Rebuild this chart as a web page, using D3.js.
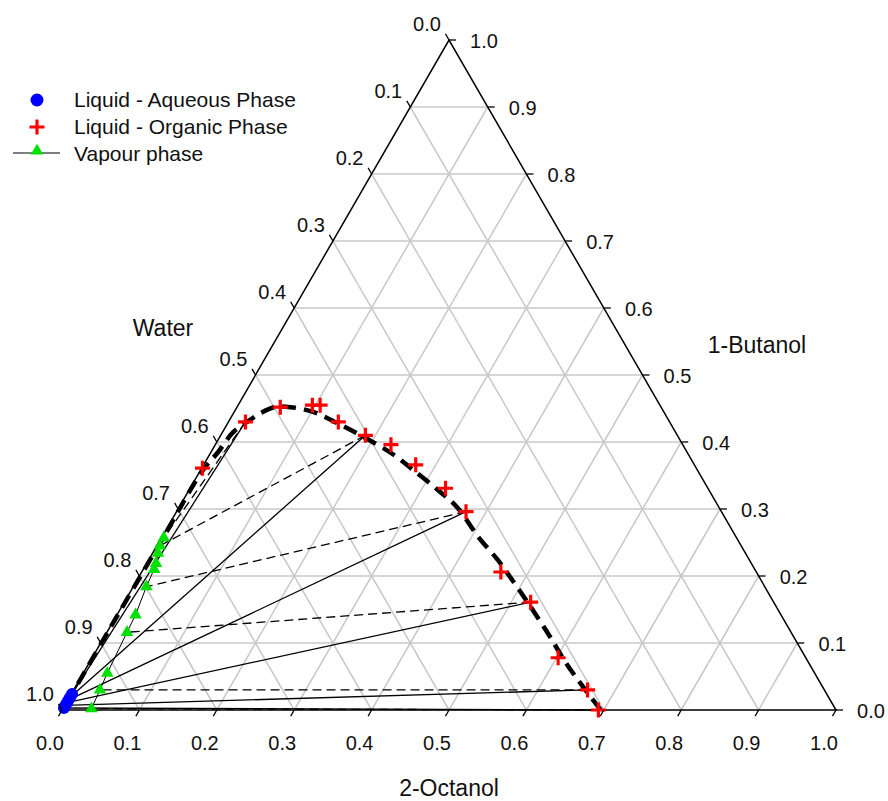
<!DOCTYPE html>
<html>
<head>
<meta charset="utf-8">
<script src="https://cdn.jsdelivr.net/npm/d3@7"></script>
<style>
  body { margin: 0; background: #fff; }
  svg text { font-family: "Liberation Sans", Arial, sans-serif; fill: #111; }
</style>
</head>
<body>
<svg id="chart" width="888" height="801"></svg>
<script>
// Tick values shared by the three ternary axes
var tickValues = [0, 0.1, 0.2, 0.3, 0.4, 0.5, 0.6, 0.7, 0.8, 0.9, 1.0];

// Liquid - organic phase (mole fractions of 2-octanol and 1-butanol)
var orgOctanol = [0.693, 0.664, 0.602, 0.525, 0.464, 0.374, 0.330, 0.274, 0.227, 0.187, 0.142, 0.106, 0.096, 0.056, 0.022, 0.001];
var orgButanol = [0.000, 0.030, 0.078, 0.161, 0.206, 0.296, 0.331, 0.366, 0.396, 0.410, 0.430, 0.455, 0.455, 0.452, 0.430, 0.361];

// Liquid - aqueous phase
var aqOctanol = [0.001, 0.001, 0.001, 0.001, 0.001, 0.001];
var aqButanol = [0.003, 0.007, 0.011, 0.015, 0.019, 0.024];

// Vapour phase
var vapOctanol = [0.003, 0.004, 0.007, 0.012, 0.014, 0.017, 0.024, 0.026, 0.031, 0.034, 0.037];
var vapButanol = [0.257, 0.245, 0.234, 0.219, 0.210, 0.184, 0.142, 0.116, 0.055, 0.030, 0.002];

// Binodal curve (thick dashed)
var binOctanol = [0.696, 0.667, 0.644, 0.611, 0.570, 0.522, 0.488, 0.451, 0.409, 0.360, 0.322, 0.275, 0.238, 0.189, 0.142, 0.102, 0.069, 0.049, 0.035, 0.024, 0.014, 0.009, 0.003, 0.002, 0.001, 0.001];
var binButanol = [0.000, 0.025, 0.045, 0.075, 0.115, 0.160, 0.191, 0.224, 0.258, 0.302, 0.328, 0.358, 0.381, 0.406, 0.428, 0.445, 0.452, 0.452, 0.443, 0.430, 0.415, 0.384, 0.358, 0.250, 0.120, 0.003];

// Tie lines: aqueous -> organic (solid), organic -> vapour (dashed)
var tieAq  = [0, 1, 2, 3, 4, 5];
var tieOrg = [0, 1, 3, 5, 9, 14];
var tieVap = [10, 9, 7, 5, 1, 0];

var legendLabels = ['Liquid - Aqueous Phase', 'Liquid - Organic Phase', 'Vapour phase'];

var svg = d3.select('#chart');
var H = Math.sqrt(3) / 2;
var xScale = d3.scaleLinear().domain([0, 1]).range([62, 836]);
var yScale = d3.scaleLinear().domain([0, H]).range([710, 40]);

// ternary (octanol, butanol) -> pixel
var px = function (oct, but) { return xScale(oct + but / 2); };
var py = function (oct, but) { return yScale(but * H); };
var pt = function (oct, but) { return [px(oct, but), py(oct, but)]; };

var line = d3.line();

// Grid lines, one family per component
var grid = svg.append('g').attr('stroke', '#c8c8c8').attr('stroke-width', 1.5);
tickValues.slice(1, -1).forEach(function (v) {
  grid.append('path').attr('d', line([pt(v, 0), pt(v, 1 - v)]));      // constant octanol
  grid.append('path').attr('d', line([pt(0, v), pt(1 - v, v)]));      // constant butanol
  grid.append('path').attr('d', line([pt(1 - v, 0), pt(0, 1 - v)]));  // constant water
});

// Tie lines
var ties = svg.append('g').attr('fill', 'none').attr('stroke', '#000');
tieAq.forEach(function (a, i) {
  var o = tieOrg[i], v = tieVap[i];
  ties.append('path')
    .attr('d', line([pt(aqOctanol[a], aqButanol[a]), pt(orgOctanol[o], orgButanol[o])]))
    .attr('stroke-width', 1.3);
  ties.append('path')
    .attr('d', line([pt(orgOctanol[o], orgButanol[o]), pt(vapOctanol[v], vapButanol[v])]))
    .attr('stroke-width', 1.3)
    .attr('stroke-dasharray', '9,5');
});

// Vapour line
svg.append('path')
  .attr('d', line(vapOctanol.map(function (d, i) { return pt(d, vapButanol[i]); })))
  .attr('fill', 'none').attr('stroke', '#000').attr('stroke-width', 1);

// Binodal curve
svg.append('path')
  .attr('d', d3.line().curve(d3.curveCatmullRom)(binOctanol.map(function (d, i) { return pt(d, binButanol[i]); })))
  .attr('fill', 'none').attr('stroke', '#000').attr('stroke-width', 4.5)
  .attr('stroke-dasharray', '14,8');

// Triangle outline
svg.append('path')
  .attr('d', line([pt(0, 0), pt(1, 0), pt(0, 1)]) + 'Z')
  .attr('fill', 'none').attr('stroke', '#000').attr('stroke-width', 1.5);

// Markers
var triangle = d3.symbol().type(d3.symbolTriangle).size(68);
var plus = function (g, x, y) {
  g.append('path')
    .attr('d', 'M' + (x - 7.5) + ',' + y + 'H' + (x + 7.5) + 'M' + x + ',' + (y - 7.5) + 'V' + (y + 7.5))
    .attr('stroke', '#ff0000').attr('stroke-width', 3.2);
};

svg.append('g').selectAll('path')
  .data(vapOctanol).enter().append('path')
  .attr('d', triangle)
  .attr('transform', function (d, i) { return 'translate(' + pt(d, vapButanol[i]) + ')'; })
  .attr('fill', '#00e000');

svg.append('g').selectAll('circle')
  .data(aqOctanol).enter().append('circle')
  .attr('cx', function (d, i) { return px(d, aqButanol[i]); })
  .attr('cy', function (d, i) { return py(d, aqButanol[i]); })
  .attr('r', 6)
  .attr('fill', '#0000ff');

var orgG = svg.append('g');
orgOctanol.forEach(function (d, i) { plus(orgG, px(d, orgButanol[i]), py(d, orgButanol[i])); });

// Axis ticks and labels
var axes = svg.append('g');
var tickLen = 7;
var fmt = d3.format('.1f');
var tickFont = 20;
tickValues.forEach(function (v) {
  // bottom: 2-Octanol, ticks down-left
  var b = pt(v, 0);
  axes.append('path').attr('d', line([b, [b[0] - tickLen * 0.5, b[1] + tickLen * H]]))
    .attr('stroke', '#000').attr('stroke-width', 1.3);
  axes.append('text').attr('x', b[0] - 12).attr('y', b[1] + 40)
    .attr('text-anchor', 'middle').attr('font-size', tickFont).text(fmt(v));

  // right: 1-Butanol, ticks to the right
  var r = pt(1 - v, v);
  axes.append('path').attr('d', line([r, [r[0] + tickLen, r[1]]]))
    .attr('stroke', '#000').attr('stroke-width', 1.3);
  axes.append('text').attr('x', r[0] + 35).attr('y', r[1] + 8)
    .attr('text-anchor', 'middle').attr('font-size', tickFont).text(fmt(v));

  // left: Water, ticks up-left
  var l = pt(0, 1 - v);
  axes.append('path').attr('d', line([l, [l[0] - tickLen * 0.5, l[1] - tickLen * H]]))
    .attr('stroke', '#000').attr('stroke-width', 1.3);
  axes.append('text').attr('x', l[0] - 22).attr('y', l[1] - 9)
    .attr('text-anchor', 'middle').attr('font-size', tickFont).text(fmt(v));
});

// Axis titles
svg.append('text').attr('x', 163).attr('y', 336).attr('text-anchor', 'middle')
  .attr('font-size', 23).text('Water');
svg.append('text').attr('x', 757).attr('y', 353).attr('text-anchor', 'middle')
  .attr('font-size', 23).text('1-Butanol');
svg.append('text').attr('x', 449).attr('y', 796).attr('text-anchor', 'middle')
  .attr('font-size', 23).text('2-Octanol');

// Legend
var legend = svg.append('g');
legend.append('circle').attr('cx', 37).attr('cy', 100).attr('r', 6.5).attr('fill', '#0000ff');
plus(legend, 37, 127);
legend.append('path').attr('d', line([[13, 153], [60, 153]])).attr('stroke', '#000').attr('stroke-width', 1);
legend.append('path').attr('d', triangle).attr('transform', 'translate(37,151)').attr('fill', '#00e000');
legendLabels.forEach(function (t, i) {
  legend.append('text').attr('x', 74).attr('y', 107 + i * 27).attr('font-size', 21).text(t);
});
</script>
</body>
</html>
